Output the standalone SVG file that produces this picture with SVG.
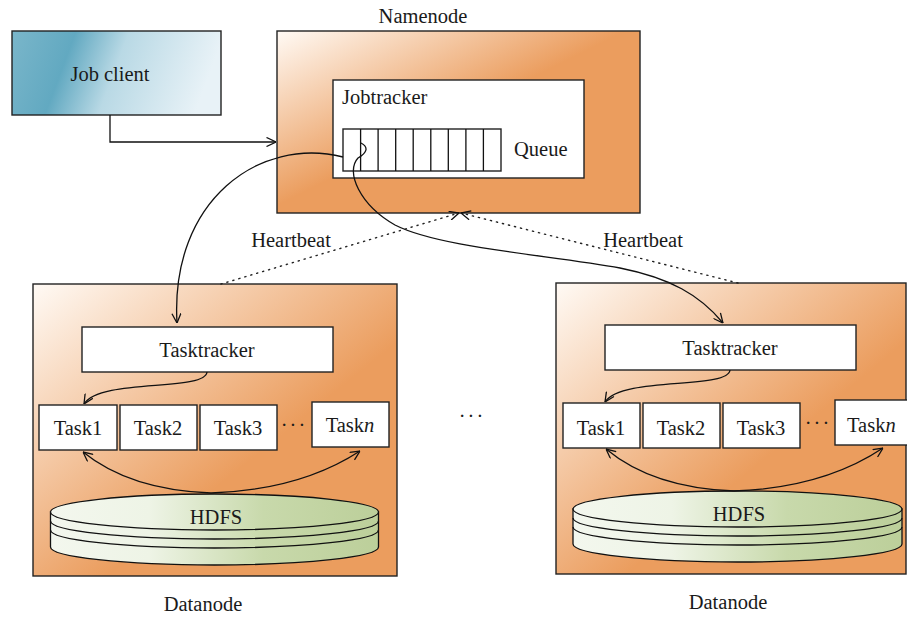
<svg xmlns="http://www.w3.org/2000/svg" width="907" height="618" viewBox="0 0 907 618" font-family="'Liberation Serif', 'Times New Roman', 'DejaVu Serif', serif">
  <defs>
    <style>
      text { font-family: "Liberation Serif", "Times New Roman", "DejaVu Serif", serif; font-size: 20.5px; fill: #1a1a1a; }
      .mid { text-anchor: middle; }
      .box { stroke: #222; stroke-width: 1.4; }
      .white { fill: #fff; stroke: #222; stroke-width: 1.4; }
      .line { fill: none; stroke: #111; stroke-width: 1.3; }
      .dots { fill: none; stroke: #222; stroke-width: 1.4; stroke-dasharray: 1.2 5; stroke-linecap: round; }
      .tip { fill: none; stroke: none; }
      .disk { stroke: #111; stroke-width: 1.3; }
      .ring { fill: none; stroke: #111; stroke-width: 1.3; }
    </style>
    <linearGradient id="gClient" x1="0" y1="0" x2="1" y2="0.15">
      <stop offset="0" stop-color="#7ab6ca"/>
      <stop offset="0.3" stop-color="#62a9c1"/>
      <stop offset="0.55" stop-color="#b9d9e5"/>
      <stop offset="1" stop-color="#e8f2f7"/>
    </linearGradient>
    <linearGradient id="gName" x1="0" y1="0" x2="1" y2="1">
      <stop offset="0" stop-color="#fffaf5"/>
      <stop offset="0.48" stop-color="#eb9d5e"/>
      <stop offset="1" stop-color="#eb9d5e"/>
    </linearGradient>
    <linearGradient id="gData" x1="0" y1="0" x2="1" y2="1">
      <stop offset="0" stop-color="#fffaf5"/>
      <stop offset="0.6" stop-color="#eb9d5e"/>
      <stop offset="1" stop-color="#eb9d5e"/>
    </linearGradient>
    <linearGradient id="gDisk" x1="0" y1="0" x2="1" y2="0">
      <stop offset="0" stop-color="#f3f7ee"/>
      <stop offset="0.3" stop-color="#eef4e6"/>
      <stop offset="0.65" stop-color="#c8d9ab"/>
      <stop offset="1" stop-color="#bccf9a"/>
    </linearGradient>
    <marker id="arr" viewBox="0 0 10 10" refX="10" refY="5" markerWidth="10" markerHeight="10" markerUnits="userSpaceOnUse" orient="auto-start-reverse">
      <path d="M0.5,0.5 L10,5 L0.5,9.5" fill="none" stroke="#111" stroke-width="1.3"/>
    </marker>
  </defs>

  <!-- Job client -->
  <g id="job-client">
    <rect class="box" x="12" y="31" width="209" height="84" fill="url(#gClient)"/>
    <text class="mid" x="110" y="81">Job client</text>
  </g>

  <!-- Namenode with jobtracker and queue -->
  <g id="namenode">
    <text class="mid" x="423" y="23">Namenode</text>
    <rect class="box" x="277" y="31" width="363" height="182" fill="url(#gName)"/>
  </g>
  <g id="jobtracker">
    <rect class="white" x="333" y="80" width="251" height="98"/>
    <text x="342" y="104">Jobtracker</text>
  </g>
  <g id="queue">
    <rect class="white" x="343" y="129" width="158" height="42"/>
    <path class="line" d="M360.6,129V171M378.1,129V171M395.7,129V171M413.2,129V171M430.8,129V171M448.3,129V171M465.9,129V171M483.4,129V171"/>
    <text x="514" y="156">Queue</text>
  </g>

  <!-- Left datanode -->
  <g id="datanode-1">
    <rect class="box" x="33" y="284" width="364" height="292" fill="url(#gData)"/>
    <text class="mid" x="203" y="611">Datanode</text>
  </g>
  <g id="tasktracker-1">
    <rect class="white" x="82" y="327" width="251" height="45"/>
    <text class="mid" x="207" y="357">Tasktracker</text>
  </g>
  <g id="tasks-1">
    <rect class="white" x="39" y="405" width="78" height="45"/>
    <text class="mid" x="78" y="435">Task1</text>
    <rect class="white" x="120" y="405" width="77" height="45"/>
    <text class="mid" x="158" y="435">Task2</text>
    <rect class="white" x="200" y="405" width="77" height="45"/>
    <text class="mid" x="238" y="435">Task3</text>
    <text class="mid" x="294" y="432" letter-spacing="2">···</text>
    <rect class="white" x="312" y="402" width="77" height="45"/>
    <text class="mid" x="350" y="432">Task<tspan font-style="italic">n</tspan></text>
  </g>
  <g id="hdfs-1">
    <path class="disk" d="M50.5,512 V547 A164,18 0 0 0 378.5,547 V512 Z" fill="url(#gDisk)"/>
    <path class="ring" d="M50.5,521 A164,18 0 0 0 378.5,521 M50.5,530 A164,18 0 0 0 378.5,530"/>
    <ellipse class="disk" cx="214.5" cy="512" rx="164" ry="18" fill="url(#gDisk)"/>
    <text class="mid" x="216" y="524">HDFS</text>
  </g>

  <!-- Right datanode -->
  <g id="datanode-2">
    <rect class="box" x="556" y="283" width="350" height="291" fill="url(#gData)"/>
    <text class="mid" x="728" y="609">Datanode</text>
  </g>
  <g id="tasktracker-2">
    <rect class="white" x="605" y="325" width="251" height="45"/>
    <text class="mid" x="730" y="355">Tasktracker</text>
  </g>
  <g id="tasks-2">
    <rect class="white" x="563" y="403" width="77" height="45"/>
    <text class="mid" x="601" y="435">Task1</text>
    <rect class="white" x="643" y="403" width="77" height="45"/>
    <text class="mid" x="681" y="435">Task2</text>
    <rect class="white" x="723" y="403" width="77" height="45"/>
    <text class="mid" x="761" y="435">Task3</text>
    <text class="mid" x="818" y="430" letter-spacing="2">···</text>
    <rect class="white" x="835" y="400" width="80" height="45"/>
    <text x="847" y="432">Task<tspan font-style="italic">n</tspan></text>
  </g>
  <g id="hdfs-2">
    <path class="disk" d="M573,509 V544 A164.5,18 0 0 0 902,544 V509 Z" fill="url(#gDisk)"/>
    <path class="ring" d="M573,518 A164.5,18 0 0 0 902,518 M573,527 A164.5,18 0 0 0 902,527"/>
    <ellipse class="disk" cx="737.5" cy="509" rx="164.5" ry="18" fill="url(#gDisk)"/>
    <text class="mid" x="739" y="521">HDFS</text>
  </g>

  <!-- Between the datanodes -->
  <text class="mid" x="472" y="423" letter-spacing="2">···</text>

  <!-- Connectors -->
  <g id="connectors">
    <path class="line" d="M110,115 V142 H276" marker-end="url(#arr)"/>
    <!-- queue to tasktrackers -->
    <path class="line" d="M343,157 C260,136 170,200 177,323" marker-end="url(#arr)"/>
    <path class="line" d="M361,143 C369,147 367,153 358,158 C345,172 360,205 395,225 C440,248 550,255 620,268 C670,278 700,295 723,323" marker-end="url(#arr)"/>
    <!-- heartbeats: dotted lines, arrowheads carried by invisible copies -->
    <path class="dots" d="M221,284 L459,213"/>
    <path class="dots" d="M738,283 L461,213"/>
    <path class="tip" d="M221,284 L459,213" marker-end="url(#arr)"/>
    <path class="tip" d="M738,283 L461,213" marker-end="url(#arr)"/>
    <text class="mid" x="291" y="247">Heartbeat</text>
    <text class="mid" x="643" y="247">Heartbeat</text>
    <!-- tasktracker to first task -->
    <path class="line" d="M207,372 C205,392 100,378 84,404" marker-end="url(#arr)"/>
    <path class="line" d="M730,370 C728,390 622,376 605,402" marker-end="url(#arr)"/>
    <!-- HDFS to tasks -->
    <path class="line" d="M211,493 Q130,490 83,452" marker-end="url(#arr)"/>
    <path class="line" d="M211,493 Q300,490 360,451" marker-end="url(#arr)"/>
    <path class="line" d="M734,491 Q653,488 606,449" marker-end="url(#arr)"/>
    <path class="line" d="M734,491 Q823,488 883,448" marker-end="url(#arr)"/>
  </g>
</svg>
